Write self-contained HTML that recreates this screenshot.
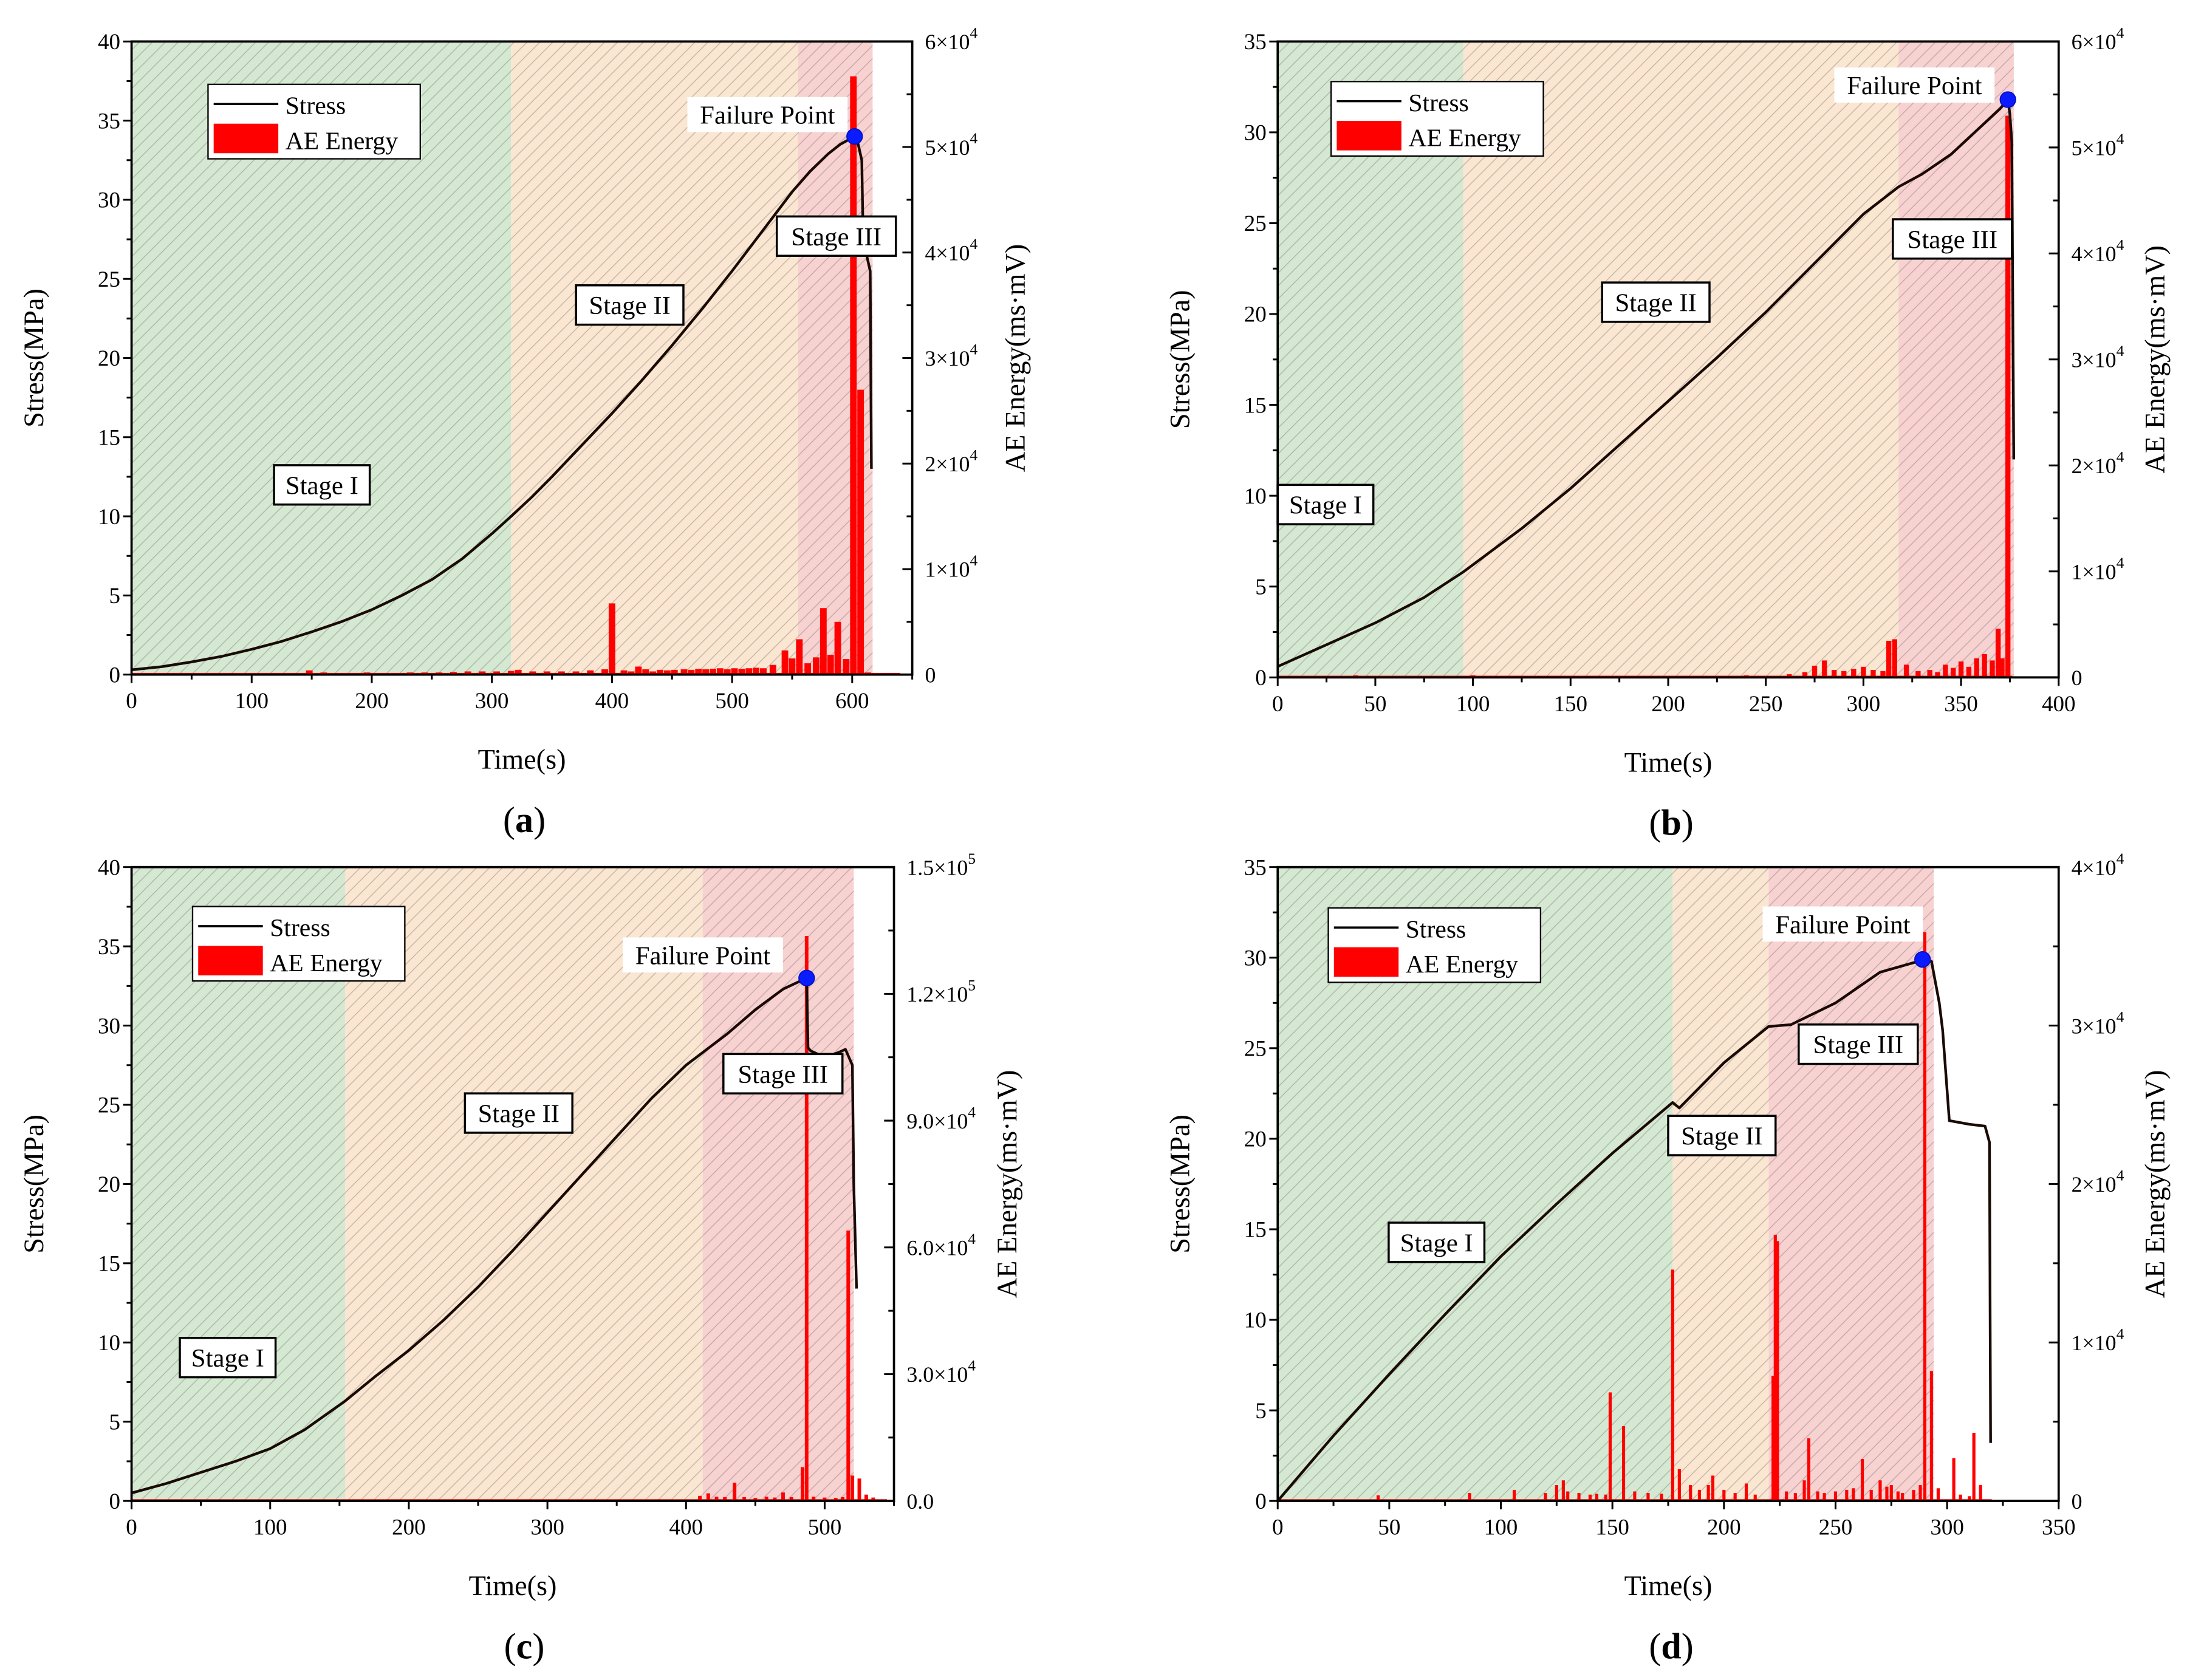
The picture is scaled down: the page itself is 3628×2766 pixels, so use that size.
<!DOCTYPE html>
<html><head><meta charset="utf-8"><style>
html,body{margin:0;padding:0;background:#fff;}
svg{display:block;font-family:"Liberation Serif","Times New Roman","DejaVu Serif",serif;}
</style></head><body>
<svg id="fig" width="3628" height="2766" viewBox="0 0 1568 1195.4" font-family="Liberation Serif, Times New Roman, DejaVu Serif, serif" xmlns="http://www.w3.org/2000/svg">
<defs>
<pattern id="hatch" patternUnits="userSpaceOnUse" width="6.5" height="6.5" patternTransform="rotate(45)">
<line x1="0" y1="0" x2="0" y2="6.5" stroke="rgba(110,110,110,0.38)" stroke-width="1.3"/>
</pattern>
</defs>
</svg>
<script>
// ---- panel (a) data ----
const aStressT=[0,25,50,75,100,125,150,175,200,225,250,275,300,316,333,350,375,400,425,450,475,500,525,550,565,580,590,602,605,608,609,612,615,616];
const aStressV=[0.3,0.5,0.8,1.15,1.6,2.1,2.7,3.35,4.1,5.0,6.0,7.3,8.9,10,11.2,12.5,14.5,16.5,18.6,20.8,23.1,25.5,28,30.5,31.8,32.9,33.5,34,33.5,32.5,28,26.5,25.5,13];
const aAeT=[10,22,34,46,58,70,82,94,106,118,130,142,148,160,172,184,196,208,220,232,244,256,268,280,292,304,316,322,334,346,358,370,382,394,400,410,416,422,428,434,440,446,452,460,466,472,478,484,490,496,502,508,514,520,526,534,544,550,556,563,570,576,582,588,595,601,607,613];
const aAeV=[150,150,150,150,150,150,150,150,150,150,150,150,400,200,150,150,200,150,150,200,200,200,250,300,300,300,350,450,300,300,300,300,400,500,6750,400,300,760,500,300,450,400,450,500,450,550,500,550,600,500,600,550,600,650,600,920,2290,1530,3350,1070,1630,6300,1880,5000,1480,56700,27000,200];
// ---- panel (b) data ----
const bStressT=[0,25,50,75,95,110,125,150,175,200,225,250,275,300,318,330,345,360,370,374,375,376,377];
const bStressV=[0.6,1.8,3.0,4.4,5.8,7.0,8.2,10.4,12.8,15.2,17.6,20.1,22.8,25.5,27,27.7,28.8,30.3,31.3,31.8,31,29.5,12];
const bAeT=[40,100,180,215,240,262,270,275,280,285,290,295,300,305,310,313,316,322,328,334,338,342,346,350,354,358,362,366,369,371,374];
const bAeV=[200,200,150,150,200,300,500,1100,1600,700,600,800,1000,700,600,3450,3600,1200,600,700,500,1200,900,1500,1000,1800,2200,1600,4600,1800,53000];
// ---- panel (c) data ----
const cStressT=[0,25,50,75,100,125,154,175,200,225,250,275,300,325,350,375,400,412,430,450,470,487,488,490,500,510,515,520,521,523];
const cStressV=[0.5,1.1,1.8,2.5,3.3,4.5,6.3,7.8,9.5,11.4,13.5,15.8,18.2,20.6,23,25.4,27.5,28.3,29.5,31,32.3,33,28.6,28.4,28,28.3,28.5,27.5,20,13.4];
const cAeT=[50,120,200,300,380,410,416,422,428,435,442,450,458,464,470,476,484,487,492,500,508,513,517,520,525,530,535];
const cAeV=[300,300,300,300,400,1200,1800,1000,900,4300,900,700,1000,800,2000,900,8000,133700,1000,800,700,900,64000,6000,5300,1500,800];
// ---- panel (d) data ----
const dStressT=[0,25,50,75,100,125,150,177,180,200,220,230,250,270,290,293,296.5,298,301,310,317,319,319.5];
const dStressV=[0,3.6,7,10.3,13.5,16.4,19.2,22,21.7,24.2,26.2,26.3,27.5,29.2,29.9,29.8,27.5,26,21,20.8,20.7,19.8,3.2];
const dAeT=[45,86,106,120,125,128,130,135,140,143,147,149,155,160,166,172,177,180,185,189,193,195,200,205,210,214,222,223,224,228,232,236,238,242,245,250,255,258,262,266,270,273,275,278,280,285,288,290,293,296,303,306,310,312,315];
const dAeV=[350,500,700,500,1000,1300,600,500,400,450,400,6850,4720,600,500,450,14600,2000,1000,700,1000,1600,700,500,1100,400,7900,16800,16400,600,500,1300,3950,600,500,600,700,800,2650,700,1300,900,1000,600,500,700,1000,35900,8200,800,2700,400,300,4300,1000];

const NS="http://www.w3.org/2000/svg";
const svg=document.getElementById('fig');
function mk(tag,attrs,parent){const e=document.createElementNS(NS,tag);for(const k in attrs)e.setAttribute(k,attrs[k]);(parent||svg).appendChild(e);return e;}

function drawPanel(cfg){
  const g=mk('g',{});
  
  
  const L=cfg.x0,R=cfg.x1,T=cfg.y0,B=cfg.y1;
  const sx=t=>L+(t/cfg.xmax)*(R-L);
  const sy=v=>B-(v/cfg.ymax)*(B-T);
  const sy2=v=>B-(v/cfg.y2max)*(B-T);
  const cols=['#d5e8d2','#fae6d1','#f8d1d1'];
  const names=['stage-i-region','stage-ii-region','stage-iii-region'];
  for(let i=0;i<3;i++){
    const a=sx(cfg.stages[i]),b=sx(cfg.stages[i+1]);
    const r=mk('rect',{x:a,y:T,width:b-a,height:B-T,fill:cols[i]},g);
    
    
    mk('rect',{x:a,y:T,width:b-a,height:B-T,fill:'url(#hatch)'},g);
  }
  const bars=mk('g',{},g);
  
  
  mk('line',{x1:sx(0),x2:sx(cfg.aeEnd),y1:B-0.6,y2:B-0.6,stroke:'#ff0000','stroke-width':1.2},bars);
  cfg.aeT.forEach((t,i)=>{
    const w=(cfg.barW/cfg.xmax)*(R-L);
    const y=sy2(cfg.aeV[i]);
    const r=mk('rect',{x:sx(t)-w/2,y:y,width:w,height:B-y,fill:'#ff0000'},bars);
    
    
  });
  const pts=cfg.sT.map((t,i)=>sx(t).toFixed(2)+','+sy(cfg.sV[i]).toFixed(2)).join(' ');
  const pl=mk('polyline',{points:pts,fill:'none',stroke:'#1a0a05','stroke-width':1.9,'stroke-linejoin':'round'},g);
  
  
  const fp=mk('circle',{cx:sx(cfg.fail[0]),cy:sy(cfg.fail[1]),r:5.5,fill:'#0a1cff',stroke:'#0010c0','stroke-width':0.8},g);
  
  
  const ft=cfg.failText;
  mk('rect',{x:ft[0]-57,y:ft[1]-13,width:114,height:25,fill:'#fff'},g);
  const ftx=mk('text',{x:ft[0],y:ft[1]+6,'text-anchor':'middle','font-size':18.5},g);
  ftx.textContent='Failure Point';
  
  
  const sl=['Stage I','Stage II','Stage III'];
  const sln=['stage-i-label','stage-ii-label','stage-iii-label'];
  cfg.stageLbl.forEach((p,i)=>{
    const w=sl[i].length*8.3+10;
    const lg=mk('g',{},g);
    
    
    mk('rect',{x:p[0]-w/2,y:p[1]-14,width:w,height:28,fill:'#fff',stroke:'#000','stroke-width':1.5},lg);
    const t=mk('text',{x:p[0],y:p[1]+6.5,'text-anchor':'middle','font-size':18.5},lg);
    t.textContent=sl[i];
  });
  mk('rect',{x:L,y:T,width:R-L,height:B-T,fill:'none',stroke:'#000','stroke-width':1.6},g);
  const xg=mk('g',{},g);
  
  
  for(let v=0;v<=cfg.xmax+1e-9;v+=cfg.xstep/2){
    const major=Math.abs(v/cfg.xstep-Math.round(v/cfg.xstep))<1e-6;
    mk('line',{x1:sx(v),x2:sx(v),y1:B,y2:B+(major?6:3.5),stroke:'#000','stroke-width':1.3},xg);
    if(major && v<=cfg.xLabelMax){
      const t=mk('text',{x:sx(v),y:B+24,'text-anchor':'middle','font-size':16},xg);
      t.textContent=String(Math.round(v));
    }
  }
  const yg=mk('g',{},g);
  
  
  for(let v=0;v<=cfg.ymax+1e-9;v+=2.5){
    const major=Math.abs(v%5)<1e-6;
    mk('line',{x1:L,x2:L-(major?6:3.5),y1:sy(v),y2:sy(v),stroke:'#000','stroke-width':1.3},yg);
    if(major){const t=mk('text',{x:L-8,y:sy(v)+5.5,'text-anchor':'end','font-size':16},yg);t.textContent=String(v);}
  }
  const rg=mk('g',{},g);
  
  
  const n=cfg.r2labels.length-1;
  for(let i=0;i<=2*n;i++){
    const y=B-(i/(2*n))*(B-T);
    const major=i%2===0;
    mk('line',{x1:R,x2:R-(major?7:4),y1:y,y2:y,stroke:'#000','stroke-width':1.3},rg);
    if(major){
      const lab=cfg.r2labels[i/2];
      const t=mk('text',{x:R+9,y:y+5.5,'font-size':15.5},rg);
      if(lab.indexOf('^')>=0){
        const parts=lab.split('^');
        const a=mk('tspan',{},t);a.textContent=parts[0];
        const b=mk('tspan',{dy:-8,'font-size':11},t);b.textContent=parts[1];
      } else t.textContent=lab;
    }
  }
  const yl=mk('text',{x:0,y:0,'text-anchor':'middle','font-size':20,transform:`translate(${L-63},${(T+B)/2}) rotate(-90)`},g);
  yl.textContent='Stress(MPa)';
  
  
  const y2=mk('text',{x:0,y:0,'text-anchor':'middle','font-size':20,transform:`translate(${R+cfg.r2off},${(T+B)/2}) rotate(-90)`},g);
  y2.textContent='AE Energy(ms·mV)';
  
  
  const xl=mk('text',{x:(L+R)/2,y:B+67,'text-anchor':'middle','font-size':20},g);
  xl.textContent='Time(s)';
  
  
  const pl2=mk('text',{x:cfg.lblX,y:B+112,'text-anchor':'middle','font-size':26},g);
  const p1=mk('tspan',{},pl2);p1.textContent='(';
  const p2=mk('tspan',{'font-weight':'bold'},pl2);p2.textContent=cfg.id;
  const p3=mk('tspan',{},pl2);p3.textContent=')';
  
  
  const lx=cfg.leg[0],ly=cfg.leg[1];
  const lgd=mk('g',{},g);
  
  
  mk('rect',{x:lx,y:ly,width:151,height:53,fill:'#fff',stroke:'#000','stroke-width':1},lgd);
  mk('line',{x1:lx+4,x2:lx+50,y1:ly+14,y2:ly+14,stroke:'#000','stroke-width':1.5},lgd);
  mk('rect',{x:lx+4,y:ly+28,width:46,height:21,fill:'#ff0000'},lgd);
  const t1=mk('text',{x:lx+55,y:ly+21,'font-size':18},lgd);t1.textContent='Stress';
  const t2=mk('text',{x:lx+55,y:ly+46,'font-size':18},lgd);t2.textContent='AE Energy';
}

drawPanel({id:'a',x0:93.6,x1:649,y0:29.5,y1:480,xmax:650,xstep:100,xLabelMax:600,ymax:40,y2max:60000,
  r2labels:['0','1×10^4','2×10^4','3×10^4','4×10^4','5×10^4','6×10^4'],r2off:80,lblX:373,
  stages:[0,316,555,617],sT:aStressT,sV:aStressV,aeT:aAeT,aeV:aAeV,barW:5.5,aeEnd:640,
  fail:[602,34],failText:[546,82],stageLbl:[[229,345],[448,217],[595,168]],leg:[148,60]});
drawPanel({id:'b',x0:909,x1:1464.6,y0:29.5,y1:482,xmax:400,xstep:50,xLabelMax:400,ymax:35,y2max:60000,
  r2labels:['0','1×10^4','2×10^4','3×10^4','4×10^4','5×10^4','6×10^4'],r2off:75,lblX:1189,
  stages:[0,95,318,377],sT:bStressT,sV:bStressV,aeT:bAeT,aeV:bAeV,barW:2.6,aeEnd:376,
  fail:[374,31.8],failText:[1362,61],stageLbl:[[943,359],[1178,215],[1389,170]],leg:[947,58]});
drawPanel({id:'c',x0:93.6,x1:636,y0:617,y1:1068,xmax:550,xstep:100,xLabelMax:500,ymax:40,y2max:150000,
  r2labels:['0.0','3.0×10^4','6.0×10^4','9.0×10^4','1.2×10^5','1.5×10^5'],r2off:87,lblX:373,
  stages:[0,154,412,521],sT:cStressT,sV:cStressV,aeT:cAeT,aeV:cAeV,barW:2.6,aeEnd:545,
  fail:[487,33],failText:[500,680],stageLbl:[[162,966],[369,792],[557,764]],leg:[137,645]});
drawPanel({id:'d',x0:909,x1:1464.6,y0:617,y1:1068,xmax:350,xstep:50,xLabelMax:350,ymax:35,y2max:40000,
  r2labels:['0','1×10^4','2×10^4','3×10^4','4×10^4'],r2off:75,lblX:1189,
  stages:[0,177,220,294],sT:dStressT,sV:dStressV,aeT:dAeT,aeV:dAeV,barW:1.4,aeEnd:320,
  fail:[289,29.9],failText:[1311,658],stageLbl:[[1022,884],[1225,808],[1322,743]],leg:[945,646]});
</script>
</body></html>
